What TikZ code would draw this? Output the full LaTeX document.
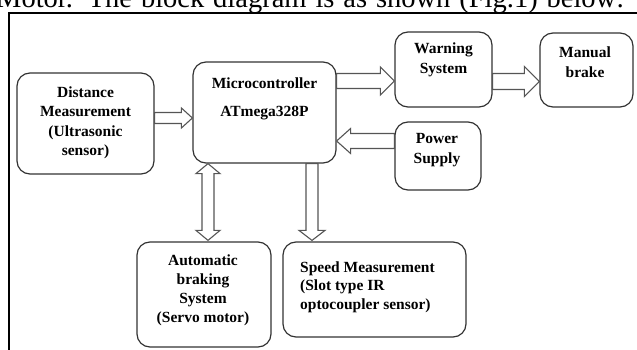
\documentclass[tikz,border=0pt]{standalone}
\usepackage{fontspec}
\setmainfont{Liberation Serif}
\usetikzlibrary{calc}

\definecolor{boxgray}{HTML}{333333}
\definecolor{arrowgray}{HTML}{555555}

\tikzset{
  box/.style={draw=boxgray, line width=1.2pt, rounded corners=13pt, inner sep=0pt},
  lbl/.style={font=\bfseries\fontsize{15.5}{19.5}\selectfont, align=center, inner sep=0pt, text=black},
  barrow/.style={draw=arrowgray, fill=white, line width=1.1pt, line join=miter},
}

% horizontal block arrow: tail, tip, half shaft, half head, head length
\newcommand\hblockarrow[5]{%
  \draw[barrow] let \p1=(#1), \p2=(#2), \n1={sign(\x2-\x1)},
      \n2={\x2-(\n1)*#5} in
    (\x1,{\y2+#3}) -- (\n2,{\y2+#3}) -- (\n2,{\y2+#4}) -- (\x2,\y2)
    -- (\n2,{\y2-#4}) -- (\n2,{\y2-#3}) -- (\x1,{\y2-#3}) -- cycle;}
% vertical block arrow
\newcommand\vblockarrow[5]{%
  \draw[barrow] let \p1=(#1), \p2=(#2), \n1={sign(\y2-\y1)},
      \n2={\y2-(\n1)*#5} in
    ({\x2+#3},\y1) -- ({\x2+#3},\n2) -- ({\x2+#4},\n2) -- (\x2,\y2)
    -- ({\x2-#4},\n2) -- ({\x2-#3},\n2) -- ({\x2-#3},\y1) -- cycle;}
% vertical block arrow with a head at both ends
\newcommand\vdoublearrow[5]{%
  \draw[barrow] let \p1=(#1), \p2=(#2), \n1={sign(\y2-\y1)},
      \n2={\y2-(\n1)*#5}, \n3={\y1+(\n1)*#5} in
    (\x2,\y1) -- ({\x2+#4},\n3) -- ({\x2+#3},\n3)
    -- ({\x2+#3},\n2) -- ({\x2+#4},\n2) -- (\x2,\y2)
    -- ({\x2-#4},\n2) -- ({\x2-#3},\n2)
    -- ({\x2-#3},\n3) -- ({\x2-#4},\n3) -- cycle;}

\begin{document}
\begin{tikzpicture}[x=1pt, y=-1pt]
\useasboundingbox (0,0) rectangle (637,350);
\clip (0,0) rectangle (637,350);

% running text above the figure and the figure frame
\node[anchor=base west, inner sep=0pt, font=\fontsize{28.5}{32}\selectfont] (caption) at (-4,8)
  {\makebox[628pt][s]{Motor. The block diagram is as shown (Fig.1) below:}};
\draw[line width=2pt] (9.3,360) -- (9.3,12.8) -- (650,12.8);

% blocks
\node[box, minimum width=137pt, minimum height=101pt] (dist)   at (85.5,123.5) {};
\node[box, minimum width=143pt, minimum height=101pt] (micro)  at (264.5,112.5) {};
\node[box, minimum width=97pt,  minimum height=75pt]  (warn)   at (443.5,69.5) {};
\node[box, minimum width=93pt,  minimum height=74pt]  (manual) at (586.5,70) {};
\node[box, minimum width=86pt,  minimum height=68pt]  (power)  at (438,156) {};
\node[box, minimum width=134pt, minimum height=105pt] (auto)   at (204,294.5) {};
\node[box, minimum width=183pt, minimum height=95pt]  (speed)  at (374.5,289.5) {};

% block labels
\node[lbl] (dist-t)   at (85.5,123) {Distance\\Measurement\\(Ultrasonic\\sensor)};
\node[lbl] (micro-t)  at (264.5,99) {Microcontroller\\[8.5pt]ATmega328P};
\node[lbl] (warn-t)   at (443.5,60) {Warning\\System};
\node[lbl] (manual-t) at (585,62) {Manual\\brake};
\node[lbl] (power-t)  at (437,150) {Power\\Supply};
\node[lbl, font=\bfseries\fontsize{15.5}{19}\selectfont] (auto-t) at (203,290.5)
  {Automatic\\braking\\System\\(Servo motor)};
\node[lbl, align=left, anchor=west, font=\bfseries\fontsize{15.5}{18.5}\selectfont] (speed-t) at (300,287)
  {Speed Measurement\\(Slot type IR\\optocoupler sensor)};

% arrow end points
\coordinate (a1s) at ([yshift=5.5pt]dist.east);
\coordinate (a1e) at ([yshift=-5.5pt]micro.west);
\coordinate (a2s) at ([yshift=31.5pt]micro.east);
\coordinate (a2e) at ([yshift=-11.5pt]warn.west);
\coordinate (a3s) at ([yshift=-12pt]warn.east);
\coordinate (a3e) at ([yshift=-11.5pt]manual.west);
\coordinate (a4s) at ([yshift=15pt]power.west);
\coordinate (a4e) at ([yshift=-28.5pt]micro.east);
\coordinate (a5s) at ([xshift=-56.5pt]micro.south);
\coordinate (a5e) at ([xshift=4pt,yshift=1pt]auto.north);
\coordinate (a6s) at ([xshift=47.5pt]micro.south);
\coordinate (a6e) at ([xshift=-62.5pt,yshift=1pt]speed.north);

% block arrows
\hblockarrow{a1s}{a1e}{5.5pt}{10pt}{11pt}
\hblockarrow{a2s}{a2e}{7.5pt}{14pt}{14pt}
\hblockarrow{a3s}{a3e}{8pt}{15pt}{15pt}
\hblockarrow{a4s}{a4e}{7.5pt}{12.5pt}{14pt}
\vdoublearrow{a5s}{a5e}{6pt}{12pt}{10pt}
\vblockarrow{a6s}{a6e}{6pt}{13pt}{10pt}
\end{tikzpicture}
\end{document}
